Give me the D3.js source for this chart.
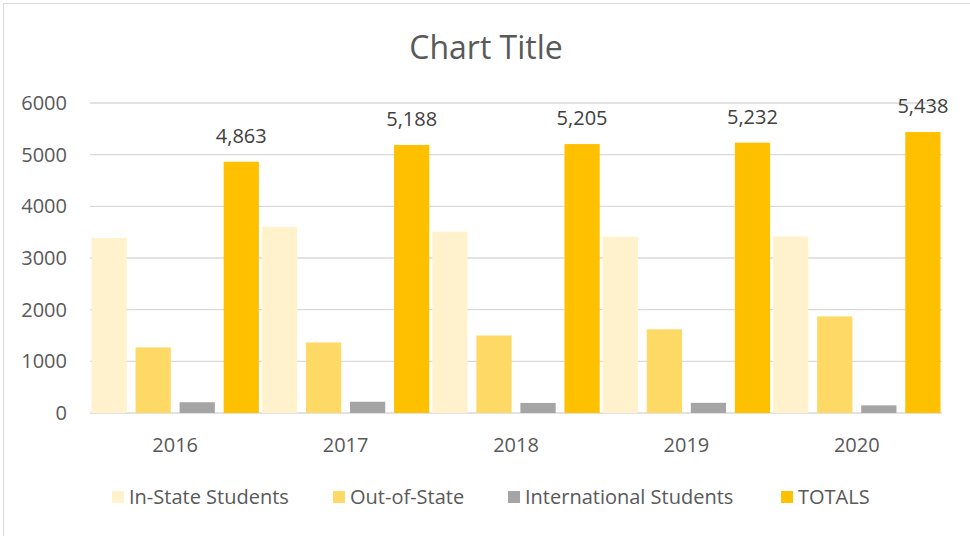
<!DOCTYPE html>
<html>
<head>
<meta charset="utf-8">
<script src="https://cdn.jsdelivr.net/npm/d3@7"></script>
<style>
  body { margin: 0; background: #fff; }
  text { font-family: "Open Sans", "Noto Sans", sans-serif; }
</style>
</head>
<body>
<div id="chart"></div>
<script>
const years = ["2016", "2017", "2018", "2019", "2020"];
const seriesNames = ["In-State Students", "Out-of-State", "International Students", "TOTALS"];
const inState = [3385, 3605, 3510, 3415, 3420];
const outOfState = [1270, 1365, 1500, 1620, 1870];
const international = [208, 218, 195, 197, 148];
const totals = [4863, 5188, 5205, 5232, 5438];
const yTicks = [0, 1000, 2000, 3000, 4000, 5000, 6000];
const colors = ["#FFF2CC", "#FFD966", "#A5A5A5", "#FFC000"];

const W = 970, H = 536;
const plot = {left: 90, right: 942, top: 103, bottom: 413};

const svg = d3.select("#chart").append("svg")
  .attr("width", W).attr("height", H);

svg.append("rect")
  .attr("x", 3.5).attr("y", 3.5)
  .attr("width", 980).attr("height", 545)
  .attr("fill", "#fff").attr("stroke", "#D9D9D9");

svg.append("text")
  .attr("x", 486).attr("y", 59)
  .attr("text-anchor", "middle")
  .attr("font-size", 32).attr("fill", "#595959")
  .text("Chart Title");

const y = d3.scaleLinear().domain([0, 6000]).range([plot.bottom, plot.top]);
const x0 = d3.scaleBand().domain(years).range([plot.left, plot.right]).paddingInner(0).paddingOuter(0);
const x1 = d3.scaleBand().domain(seriesNames).range([1.5, x0.bandwidth() - 1.5]).paddingInner(0.2).paddingOuter(0);

// gridlines
svg.append("g")
  .selectAll("line").data(yTicks).join("line")
  .attr("x1", plot.left).attr("x2", plot.right)
  .attr("y1", d => y(d)).attr("y2", d => y(d))
  .attr("stroke", "#D9D9D9").attr("stroke-width", 1.3);

// y tick labels
svg.append("g")
  .selectAll("text").data(yTicks).join("text")
  .attr("x", 67).attr("y", d => y(d) + 7)
  .attr("text-anchor", "end")
  .attr("font-size", 20).attr("fill", "#595959")
  .text(d => d);

// x labels
svg.append("g")
  .selectAll("text").data(years).join("text")
  .attr("x", d => x0(d) + x0.bandwidth() / 2).attr("y", 452)
  .attr("text-anchor", "middle")
  .attr("font-size", 20).attr("fill", "#595959")
  .text(d => d);

const table = years.map((yr, i) => ({
  year: yr,
  values: [inState[i], outOfState[i], international[i], totals[i]]
}));

const groups = svg.append("g").selectAll("g").data(table).join("g")
  .attr("transform", d => `translate(${x0(d.year)},0)`);

groups.selectAll("rect")
  .data(d => d.values.map((v, k) => ({name: seriesNames[k], value: v, k})))
  .join("rect")
  .attr("x", d => x1(d.name))
  .attr("width", x1.bandwidth())
  .attr("y", d => y(d.value))
  .attr("height", d => y(0) - y(d.value))
  .attr("fill", d => colors[d.k]);

// data labels on totals
groups.append("text")
  .attr("x", x1("TOTALS") + x1.bandwidth() / 2)
  .attr("y", d => y(d.values[3]) - 19)
  .attr("text-anchor", "middle")
  .attr("font-size", 20).attr("fill", "#404040")
  .text(d => d3.format(",")(d.values[3]));

// legend
const legendX = [112, 333, 508, 781];
const legend = svg.append("g").selectAll("g").data(seriesNames).join("g")
  .attr("transform", (d, i) => `translate(${legendX[i]},490)`);
legend.append("rect")
  .attr("width", 12).attr("height", 12).attr("y", 1)
  .attr("fill", (d, i) => colors[i]);
legend.append("text")
  .attr("x", 17).attr("y", 14)
  .attr("font-size", 20).attr("fill", "#595959")
  .text(d => d);
</script>
</body>
</html>
